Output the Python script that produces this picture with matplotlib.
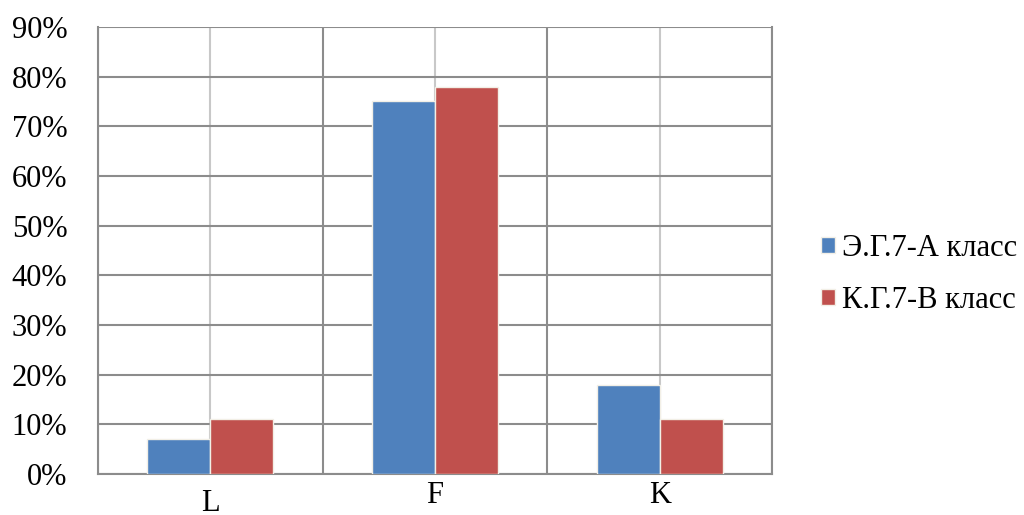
import matplotlib
matplotlib.use("Agg")
import matplotlib.pyplot as plt
import numpy as np
from matplotlib.ticker import PercentFormatter

# Group labels and the two class series (percent of students)
categories = ["L", "F", "K"]
series_names = ["Э.Г.7-А класс", "К.Г.7-В класс"]
class_a = [7, 75, 18]
class_b = [11, 78, 11]

colors = ["#4F81BD", "#C0504D"]

plt.rcParams["font.family"] = ["Liberation Serif", "DejaVu Serif"]

fig = plt.figure(figsize=(10.24, 5.15), dpi=100)
ax = fig.add_axes([0.0957, 0.0796, 0.6582, 0.868])

x = np.arange(len(categories))
width = 0.28
ax.bar(x - width / 2, class_a, width, color=colors[0], edgecolor="#F2EFE6",
       linewidth=1.0, label=series_names[0], zorder=3)
ax.bar(x + width / 2, class_b, width, color=colors[1], edgecolor="#F2EFE6",
       linewidth=1.0, label=series_names[1], zorder=3)

ax.set_xlim(-0.5, len(categories) - 0.5)
ax.set_ylim(0, 90)
ax.set_yticks(np.arange(0, 91, 10))
ax.yaxis.set_major_formatter(PercentFormatter(decimals=0))

# light lines through group centres, dark lines between groups
ax.set_xticks(x)
ax.set_xticklabels(categories)
ax.set_xticks(np.arange(-0.5, len(categories), 1.0), minor=True)
ax.grid(True, axis="x", which="major", color="#C8C8C8", linewidth=1.5, zorder=1)
ax.grid(True, axis="x", which="minor", color="#8C8C8C", linewidth=1.5, zorder=1)
ax.grid(True, axis="y", which="major", color="#8C8C8C", linewidth=1.5, zorder=1)

ax.tick_params(axis="both", which="both", length=0, labelsize=22)
ax.tick_params(axis="y", pad=22)
ax.tick_params(axis="x", pad=5)
ax.xaxis.get_major_ticks()[0].set_pad(11)

for side in ["left", "right", "bottom"]:
    ax.spines[side].set_color("#8C8C8C")
    ax.spines[side].set_linewidth(1.5)
ax.spines["top"].set_visible(False)

fig.legend(loc="center left", bbox_to_anchor=(0.775, 0.467), frameon=False,
           fontsize=22, handlelength=0.45, handleheight=0.45, handletextpad=0.25,
           labelspacing=0.75)

fig.savefig("out.png", dpi=100)
